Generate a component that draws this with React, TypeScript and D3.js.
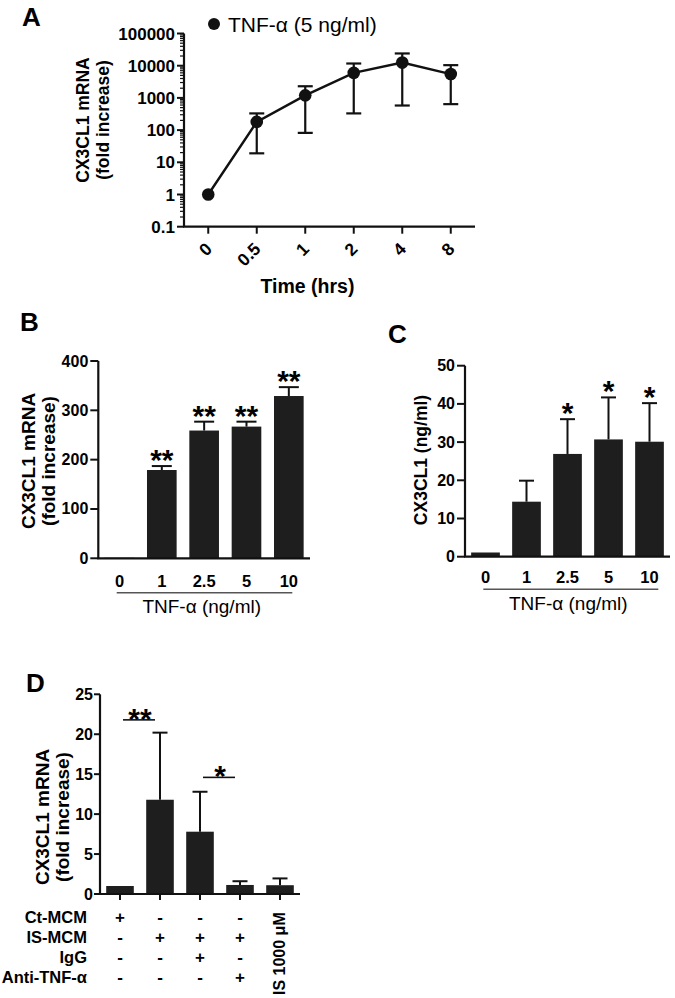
import React from "react";
import * as d3 from "d3";

// ---------- DATA ----------
const timeLabels = ["0", "0.5", "1", "2", "4", "8"];
const timeMean = [1, 180, 1200, 6000, 12500, 5500];
const timeUpper = [1, 330, 2300, 11700, 24000, 10400];
const timeLower = [1, 19, 82, 330, 580, 640];
const logTicks = [0.1, 1, 10, 100, 1000, 10000, 100000];
const logTickLabels = ["0.1", "1", "10", "100", "1000", "10000", "100000"];

const doseLabels = ["0", "1", "2.5", "5", "10"];
const mrnaMean = [1, 179, 259, 267, 329];
const mrnaUpper = [1, 187, 277, 277, 347];
const mrnaSig = ["", "**", "**", "**", "**"];
const mrnaTicks = [0, 100, 200, 300, 400];

const proteinMean = [1.1, 14.4, 26.9, 30.7, 30.1];
const proteinUpper = [1.1, 19.9, 36, 41.7, 40.2];
const proteinSig = ["", "", "*", "*", "*"];
const proteinTicks = [0, 10, 20, 30, 40, 50];

const condRowLabels = ["Ct-MCM", "IS-MCM", "IgG", "Anti-TNF-α"];
const ctMcm = ["+", "-", "-", "-"];
const isMcm = ["-", "+", "+", "+"];
const igg = ["-", "-", "+", "-"];
const antiTnf = ["-", "-", "-", "+"];
const isLabel = "IS 1000 μM";
const condMean = [1, 11.8, 7.8, 1.13, 1.1];
const condUpper = [1, 20.2, 12.8, 1.6, 1.95];
const condTicks = [0, 5, 10, 15, 20, 25];
const condSigPairs = [[0, 1], [2, 3]];
const condSigLevels = [21.8, 14.6];
const condSigLabels = ["**", "*"];

const FONT = "'Liberation Sans', Arial, Helvetica, sans-serif";
const BAR = "#1e1e1e";

function Star({ x, cy, label, fs = 30 }: { x: number; cy: number; label: string; fs?: number }) {
  return (
    <text x={x} y={cy + 0.58 * fs} textAnchor="middle" fontSize={fs} fontWeight="bold" fontFamily={FONT}>
      {label}
    </text>
  );
}

function PanelA() {
  const y = d3.scaleLog().domain([0.1, 100000]).range([226.7, 33.5]);
  const x = d3.scalePoint<string>().domain(timeLabels).range([184, 475]).padding(0.5);
  const minor: number[] = [];
  for (let e = -1; e < 5; e++) for (let m = 2; m <= 9; m++) minor.push(m * Math.pow(10, e));
  const line = d3
    .line<number>()
    .x((_, i) => x(timeLabels[i]) as number)
    .y((d) => y(d));
  const axX = 184;
  return (
    <g>
      <text x={22} y={26} fontSize={26} fontWeight="bold" fontFamily={FONT}>A</text>
      <circle cx={214} cy={24} r={6} fill="#111" />
      <text x={228} y={32} fontSize={21} fontFamily={FONT}>TNF-α (5 ng/ml)</text>
      <line x1={axX} x2={axX} y1={y(100000)} y2={y(0.1)} stroke="#111" strokeWidth={2.2} />
      <line x1={axX - 1} x2={475} y1={y(0.1)} y2={y(0.1)} stroke="#111" strokeWidth={2.2} />
      {minor.map((v, i) => (
        <line key={"m" + i} x1={axX - 4} x2={axX} y1={y(v)} y2={y(v)} stroke="#111" strokeWidth={1.2} />
      ))}
      {logTicks.map((v, i) => (
        <g key={"t" + i}>
          <line x1={axX - 7} x2={axX} y1={y(v)} y2={y(v)} stroke="#111" strokeWidth={2} />
          <text x={axX - 9} y={y(v) + 6} textAnchor="end" fontSize={17} fontWeight="bold" fontFamily={FONT}>
            {logTickLabels[i]}
          </text>
        </g>
      ))}
      {timeLabels.map((t, i) => (
        <g key={"x" + i}>
          <line x1={x(t)} x2={x(t)} y1={y(0.1)} y2={y(0.1) + 7} stroke="#111" strokeWidth={2} />
          <text
            transform={`translate(${(x(t) as number) + 5},250) rotate(-45)`}
            textAnchor="end"
            fontSize={17.5}
            fontWeight="bold"
            fontFamily={FONT}
          >
            {t}
          </text>
        </g>
      ))}
      <text x={307.5} y={293} textAnchor="middle" fontSize={19.5} fontWeight="bold" fontFamily={FONT}>Time (hrs)</text>
      <text transform="translate(89,120) rotate(-90)" textAnchor="middle" fontSize={17.5} fontWeight="bold" fontFamily={FONT}>CX3CL1 mRNA</text>
      <text transform="translate(108.5,120) rotate(-90)" textAnchor="middle" fontSize={17.5} fontWeight="bold" fontFamily={FONT}>(fold increase)</text>
      {timeLabels.map((t, i) =>
        i === 0 ? null : (
          <g key={"e" + i} stroke="#111" strokeWidth={2.2}>
            <line x1={x(t)} x2={x(t)} y1={y(timeUpper[i])} y2={y(timeLower[i])} />
            <line x1={(x(t) as number) - 7.5} x2={(x(t) as number) + 7.5} y1={y(timeUpper[i])} y2={y(timeUpper[i])} />
            <line x1={(x(t) as number) - 7.5} x2={(x(t) as number) + 7.5} y1={y(timeLower[i])} y2={y(timeLower[i])} />
          </g>
        )
      )}
      <path d={line(timeMean) || ""} fill="none" stroke="#111" strokeWidth={2.4} />
      {timeMean.map((v, i) => (
        <circle key={"c" + i} cx={x(timeLabels[i])} cy={y(v)} r={6.3} fill="#111" />
      ))}
    </g>
  );
}

function BarPanel(props: {
  letter: string;
  letterX: number;
  letterY: number;
  labels: string[];
  means: number[];
  uppers: number[];
  sig: string[];
  ticks: number[];
  yDomain: [number, number];
  yRange: [number, number];
  xRange: [number, number];
  capW: number;
  starGap: number;
  starFs: number;
  xLabelY: number;
  underY: number;
  underX: [number, number];
  titleX: number;
  titleY: number;
  yTitles: { text: string; x: number; y: number; fs: number }[];
}) {
  const p = props;
  const y = d3.scaleLinear().domain(p.yDomain).range(p.yRange);
  const x = d3.scaleBand<string>().domain(p.labels).range(p.xRange).paddingInner(0.3).paddingOuter(0.15);
  const axX = p.xRange[0];
  const y0 = y(0);
  return (
    <g>
      <text x={p.letterX} y={p.letterY} fontSize={26} fontWeight="bold" fontFamily={FONT}>{p.letter}</text>
      {p.labels.map((l, i) => {
        const bx = x(l) as number;
        const cx = bx + x.bandwidth() / 2;
        const top = y(p.means[i]);
        const up = y(p.uppers[i]);
        return (
          <g key={"b" + i}>
            <rect x={bx} y={top} width={x.bandwidth()} height={Math.max(1, y0 - top)} fill={BAR} />
            {p.uppers[i] > p.means[i] && (
              <g stroke="#111" strokeWidth={2}>
                <line x1={cx} x2={cx} y1={top} y2={up} />
                <line x1={cx - p.capW / 2} x2={cx + p.capW / 2} y1={up} y2={up} />
              </g>
            )}
            {p.sig[i] && <Star x={cx} cy={up - p.starGap} label={p.sig[i]} fs={p.starFs} />}
            <text x={cx} y={p.xLabelY} textAnchor="middle" fontSize={16.5} fontWeight="bold" fontFamily={FONT}>{l}</text>
          </g>
        );
      })}
      <line x1={axX} x2={axX} y1={p.yRange[1]} y2={y0} stroke="#111" strokeWidth={2.2} />
      <line x1={axX - 1} x2={p.xRange[1]} y1={y0} y2={y0} stroke="#111" strokeWidth={2.2} />
      {p.ticks.map((t, i) => (
        <g key={"t" + i}>
          <line x1={axX - 8} x2={axX} y1={y(t)} y2={y(t)} stroke="#111" strokeWidth={2} />
          <text x={axX - 10} y={y(t) + 5.5} textAnchor="end" fontSize={16} fontWeight="bold" fontFamily={FONT}>{t}</text>
        </g>
      ))}
      <line x1={p.underX[0]} x2={p.underX[1]} y1={p.underY} y2={p.underY} stroke="#555" strokeWidth={1.4} />
      <text x={p.titleX} y={p.titleY} textAnchor="middle" fontSize={19} fontFamily={FONT}>TNF-α (ng/ml)</text>
      {p.yTitles.map((t, i) => (
        <text key={"yt" + i} transform={`translate(${t.x},${t.y}) rotate(-90)`} textAnchor="middle" fontSize={t.fs} fontWeight="bold" fontFamily={FONT}>
          {t.text}
        </text>
      ))}
    </g>
  );
}

function PanelD() {
  const y = d3.scaleLinear().domain([0, 25]).range([894, 694.3]);
  const cols = ["c0", "c1", "c2", "c3", "c4"];
  const x = d3.scaleBand<string>().domain(cols).range([100, 300]).paddingInner(0.31).paddingOuter(0.155);
  const cx = (i: number) => (x(cols[i]) as number) + x.bandwidth() / 2;
  const rows = [ctMcm, isMcm, igg, antiTnf];
  const rowY = [923, 943, 963, 983];
  const y0 = y(0);
  return (
    <g>
      <text x={26} y={692} fontSize={26} fontWeight="bold" fontFamily={FONT}>D</text>
      {cols.map((c, i) => {
        const bx = x(c) as number;
        const top = y(condMean[i]);
        const up = y(condUpper[i]);
        return (
          <g key={c}>
            <rect x={bx} y={top} width={x.bandwidth()} height={y0 - top} fill={BAR} />
            {condUpper[i] > condMean[i] && (
              <g stroke="#111" strokeWidth={2}>
                <line x1={cx(i)} x2={cx(i)} y1={top} y2={up} />
                <line x1={cx(i) - 7.5} x2={cx(i) + 7.5} y1={up} y2={up} />
              </g>
            )}
            <line x1={cx(i)} x2={cx(i)} y1={y0} y2={y0 + 6} stroke="#111" strokeWidth={2} />
          </g>
        );
      })}
      <line x1={100} x2={100} y1={y(25)} y2={y0} stroke="#111" strokeWidth={2.2} />
      <line x1={99} x2={300} y1={y0} y2={y0} stroke="#111" strokeWidth={2.2} />
      {condTicks.map((t, i) => (
        <g key={"t" + i}>
          <line x1={94} x2={100} y1={y(t)} y2={y(t)} stroke="#111" strokeWidth={2} />
          <text x={93} y={y(t) + 5.5} textAnchor="end" fontSize={16} fontWeight="bold" fontFamily={FONT}>{t}</text>
        </g>
      ))}
      {condSigPairs.map((pr, k) => {
        const x1 = cx(pr[0]) + 3;
        const x2 = cx(pr[1]) - 5;
        const ly = y(condSigLevels[k]);
        return (
          <g key={"s" + k}>
            <line x1={x1} x2={x2} y1={ly} y2={ly} stroke="#111" strokeWidth={1.6} />
            <Star x={(x1 + x2) / 2 + 1} cy={ly - 8.5} label={condSigLabels[k]} fs={30} />
          </g>
        );
      })}
      {condRowLabels.map((l, r) => (
        <g key={"r" + r}>
          <text x={87} y={rowY[r]} textAnchor="end" fontSize={16.5} fontWeight="bold" fontFamily={FONT}>{l}</text>
          {rows[r].map((s, i) => (
            <text key={i} x={cx(i)} y={rowY[r]} textAnchor="middle" fontSize={17} fontWeight="bold" fontFamily={FONT}>{s}</text>
          ))}
        </g>
      ))}
      <text transform={`translate(${cx(4) + 5},995) rotate(-90)`} textAnchor="start" fontSize={16} fontWeight="bold" fontFamily={FONT}>{isLabel}</text>
      <text transform="translate(49,817) rotate(-90)" textAnchor="middle" fontSize={19} fontWeight="bold" fontFamily={FONT}>CX3CL1 mRNA</text>
      <text transform="translate(69,817) rotate(-90)" textAnchor="middle" fontSize={19} fontWeight="bold" fontFamily={FONT}>(fold increase)</text>
    </g>
  );
}

export default function App() {
  return (
    <svg width={675} height={998} style={{ position: "absolute", left: 0, top: 0, background: "#fff" }}>
      <rect width={675} height={998} fill="#fff" />
      <PanelA />
      <BarPanel
        letter="B" letterX={20} letterY={331}
        labels={doseLabels} means={mrnaMean} uppers={mrnaUpper} sig={mrnaSig}
        ticks={mrnaTicks} yDomain={[0, 400]} yRange={[558.3, 361]} xRange={[98.3, 310]}
        capW={20} starGap={13.5} starFs={30}
        xLabelY={587} underY={592.7} underX={[116.7, 292.3]} titleX={201.7} titleY={613}
        yTitles={[
          { text: "CX3CL1 mRNA", x: 35, y: 461, fs: 19 },
          { text: "(fold increase)", x: 55, y: 461, fs: 19 },
        ]}
      />
      <BarPanel
        letter="C" letterX={388} letterY={343}
        labels={doseLabels} means={proteinMean} uppers={proteinUpper} sig={proteinSig}
        ticks={proteinTicks} yDomain={[0, 50]} yRange={[556.7, 365.7]} xRange={[465, 670]}
        capW={15} starGap={13.5} starFs={30}
        xLabelY={583} underY={589.3} underX={[483.3, 658.3]} titleX={568.3} titleY={610}
        yTitles={[{ text: "CX3CL1 (ng/ml)", x: 427, y: 460, fs: 17.5 }]}
      />
      <PanelD />
    </svg>
  );
}
